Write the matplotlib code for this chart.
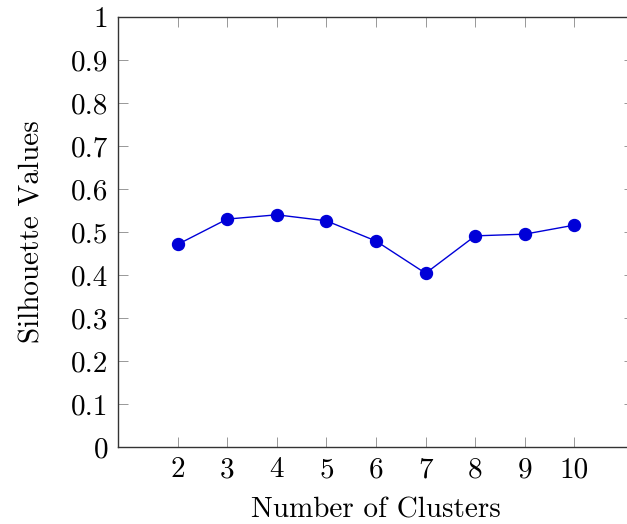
import matplotlib
matplotlib.use("Agg")
import matplotlib.pyplot as plt

# Silhouette score for each candidate number of clusters
clusters = [2, 3, 4, 5, 6, 7, 8, 9, 10]
silhouette = [0.471, 0.530, 0.540, 0.526, 0.479, 0.404, 0.491, 0.495, 0.516]
y_ticks = [0, 0.1, 0.2, 0.3, 0.4, 0.5, 0.6, 0.7, 0.8, 0.9, 1]
y_tick_labels = ["0", "0.1", "0.2", "0.3", "0.4", "0.5", "0.6", "0.7", "0.8", "0.9", "1"]

plt.rcParams["font.family"] = ["cmr10", "DejaVu Serif"]
plt.rcParams["mathtext.fontset"] = "cm"
plt.rcParams["axes.formatter.use_mathtext"] = True

W, H = 627, 524
dpi = 100
fig = plt.figure(figsize=(W / dpi, H / dpi), dpi=dpi)

left, right, top, bottom = 118, 634, 17, 447
ax = fig.add_axes([left / W, (H - bottom) / H, (right - left) / W, (bottom - top) / H])

color = "#0000d8"
ax.plot(clusters, silhouette, color=color, linewidth=1.0, marker="o",
        markersize=8.6, markerfacecolor=color, markeredgecolor=color, zorder=3)

ax.set_xlim(0.8, 11.2)
ax.set_ylim(0, 1)
ax.set_xticks(clusters)
ax.set_xticklabels([str(c) for c in clusters])
ax.set_yticks(y_ticks)
ax.set_yticklabels(y_tick_labels)

for s in ax.spines.values():
    s.set_linewidth(1.0)
    s.set_color("#333333")

ax.tick_params(direction="in", length=7, width=0.6, color="#888888",
               top=True, right=True, labelsize=21, pad=7)

ax.set_xlabel("Number of Clusters", fontsize=21, labelpad=10)
ax.set_ylabel("Silhouette Values", fontsize=21, labelpad=18)

fig.savefig("out.png", dpi=dpi)
